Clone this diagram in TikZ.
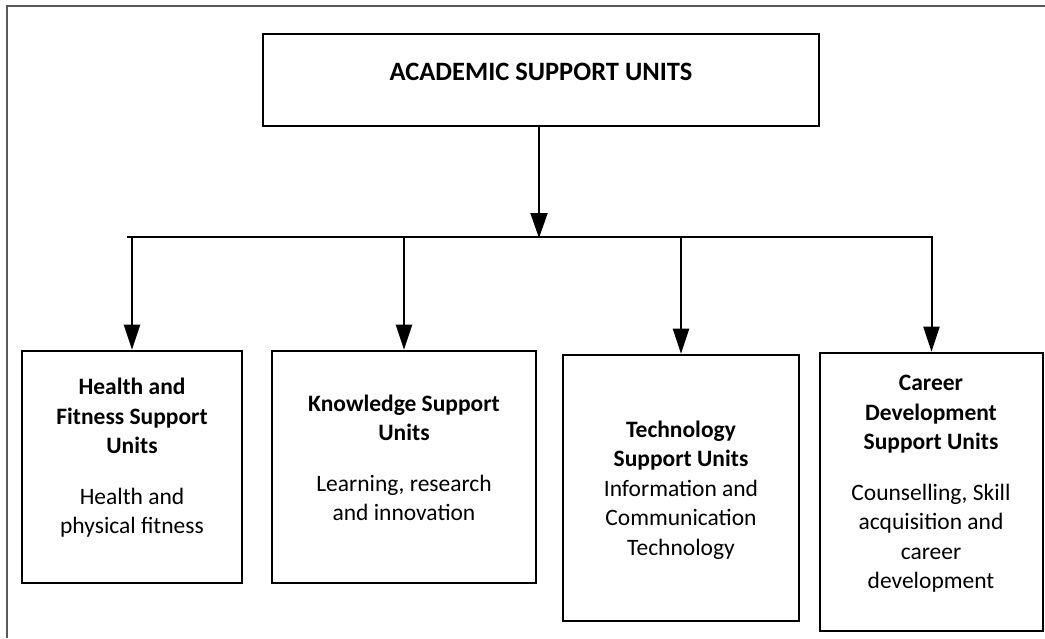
\documentclass[tikz,border=0pt]{standalone}
\usepackage{fontspec}
\setmainfont{Carlito}
\usetikzlibrary{arrows.meta}
\begin{document}
\begin{tikzpicture}[x=1pt,y=-1pt]
\useasboundingbox (0,0) rectangle (1045,638);
\draw[line width=2pt,color=black!65] (7,638) -- (7,6) -- (1045,6);
\tikzstyle{every node}=[font=\fontsize{23.5}{29.5}\selectfont,inner sep=0pt];
\tikzstyle{unit}=[draw,line width=2.6pt];
\tikzstyle{txt}=[align=center];
\node[unit,minimum width=556,minimum height=92] (top) at (541,80) {};
\node[txt,font=\fontsize{26.5}{32}\selectfont] (ttop) at (541,72) {\textbf{ACADEMIC SUPPORT UNITS}};
\node[unit,minimum width=220,minimum height=232] (h) at (132,467) {};
\node[unit,minimum width=264,minimum height=232] (k) at (404,467) {};
\node[unit,minimum width=236,minimum height=266] (t) at (681,488) {};
\node[unit,minimum width=223,minimum height=278] (c) at (931.5,492) {};
\node[txt] (th) at (132,458) {\textbf{Health and}\\\textbf{Fitness Support}\\\textbf{Units}\\[21pt]Health and\\physical fitness};
\node[txt] (tk) at (404,458) {\textbf{Knowledge Support}\\\textbf{Units}\\[21pt]Learning, research\\and innovation};
\node[txt] (tt) at (681,490) {\textbf{Technology}\\\textbf{Support Units}\\Information and\\Communication\\Technology};
\node[txt] (tc) at (931,484) {\textbf{Career}\\\textbf{Development}\\\textbf{Support Units}\\[21pt]Counselling, Skill\\acquisition and\\career\\development};
\coordinate (j) at (539,238);
\coordinate (bl) at (127,237);
\coordinate (br) at (933,237);
\draw[line width=2pt] (bl) -- (br);
\draw[line width=2pt,-{Triangle[length=25pt,width=17pt]}] (j |- top.south) -- (j);
\draw[line width=2pt,-{Triangle[length=25pt,width=16pt]}] (h.north |- bl) -- (h.north);
\draw[line width=2pt,-{Triangle[length=25pt,width=16pt]}] (k.north |- bl) -- (k.north);
\draw[line width=2pt,-{Triangle[length=25pt,width=16pt]}] (t.north |- bl) -- (t.north);
\draw[line width=2pt,-{Triangle[length=25pt,width=16pt]}] (c.north |- bl) -- (c.north);
\end{tikzpicture}
\end{document}
